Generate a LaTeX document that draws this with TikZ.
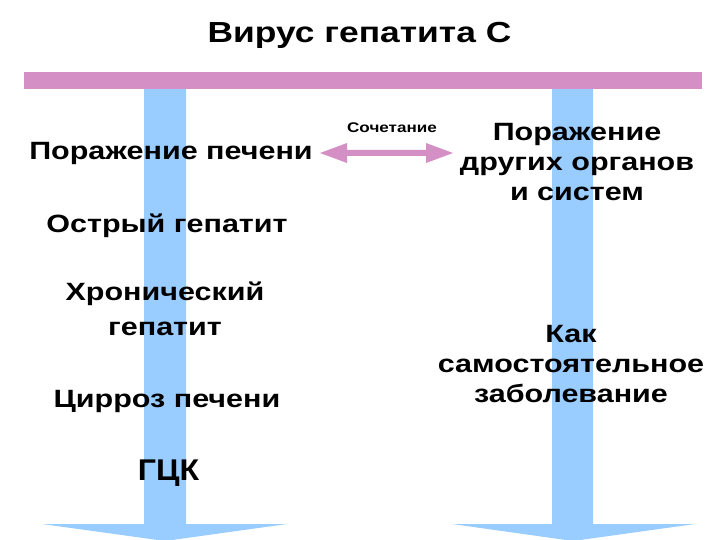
\documentclass[tikz,border=0pt]{standalone}
\usepackage{fontspec}
\usepackage{graphicx}
\setmainfont{Liberation Sans}
\usetikzlibrary{calc}
\definecolor{barpink}{HTML}{D48FC4}
\definecolor{arrblue}{HTML}{99CCFF}
\newcommand{\widetxt}[1]{\scalebox{1.22}[1]{#1}}
\begin{document}
\begin{tikzpicture}[x=1pt,y=-1pt,
  lbl/.style={anchor=base,inner sep=0pt,font=\fontsize{25}{30}\selectfont\bfseries,align=center},
  lbl2/.style={anchor=base,inner sep=0pt,font=\fontsize{25}{35}\selectfont\bfseries,align=center}]
\useasboundingbox (0,0) rectangle (720,540);
% blue arrows
\fill[arrblue] (144,89) -- (186,89) -- (186,524) -- (287,524) -- (165,541) -- (42,524) -- (144,524) -- cycle;
\fill[arrblue] (552,89) -- (593,89) -- (593,524) -- (695,524) -- (573,541) -- (452,524) -- (552,524) -- cycle;
% pink bar
\fill[barpink] (24,72) rectangle (702,89);
% title
\node[anchor=base,inner sep=0pt,font=\fontsize{29}{34}\selectfont\bfseries] (title) at (359.5,43) {\widetxt{Вирус гепатита С}};
% left column
\node[lbl] (liver) at (171,160) {\widetxt{Поражение печени}};
\node[lbl] (acute) at (167,233) {\widetxt{Острый гепатит}};
\node[lbl2] (chronic) at (165,335) {\widetxt{Хронический}\\\widetxt{гепатит}};
\node[lbl] (cirr) at (167,407) {\widetxt{Цирроз печени}};
\node[anchor=base,inner sep=0pt,font=\fontsize{30}{34}\selectfont\bfseries] (hcc) at (168.5,480) {\scalebox{1.07}[1]{ГЦК}};
% right column
\node[lbl] (other) at (577,201) {\widetxt{Поражение}\\\widetxt{других органов}\\\widetxt{и систем}};
\node[lbl] (self) at (571,402) {\widetxt{Как}\\\widetxt{самостоятельное}\\\widetxt{заболевание}};
% combination arrow
\node[anchor=base,inner sep=0pt,font=\fontsize{14}{17}\selectfont\bfseries] (comb) at (392,133) {\widetxt{Сочетание}};
\coordinate (al) at (320,153);
\coordinate (ar) at (453,153);
\fill[barpink] (al) -- ++(27,-10) -- ++(0,7) -- ($(ar)+(-27,-3)$) -- ++(0,-7) -- (ar) -- ++(-27,10) -- ++(0,-7) -- ($(al)+(27,3)$) -- ++(0,7) -- cycle;
\end{tikzpicture}
\end{document}
